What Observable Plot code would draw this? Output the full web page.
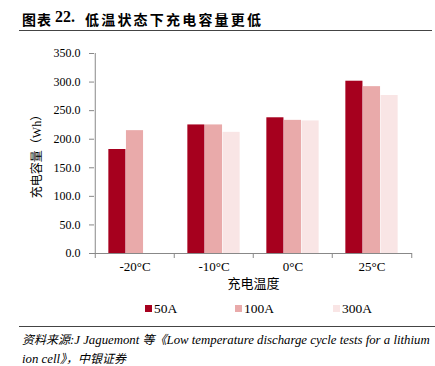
<!DOCTYPE html>
<html><head><meta charset="utf-8">
<script src="https://cdn.jsdelivr.net/npm/d3@7"></script>
<script src="https://cdn.jsdelivr.net/npm/@observablehq/plot@0.6"></script>
<style>
body{margin:0;background:#fff;}
#wrap{position:relative;width:435px;height:366px;overflow:hidden;font-family:'Liberation Serif','Times New Roman','Noto Sans CJK SC',serif;color:#000;}
#title{position:absolute;left:0;top:9px;height:20px;width:435px;font-weight:bold;font-size:14px;white-space:nowrap;}
#title span{position:absolute;top:0;}
.hr{position:absolute;background:#444;height:1.3px;}
#chart{position:absolute;left:0;top:40px;}
.leg{position:absolute;top:301px;font-size:13.5px;white-space:nowrap;}
.sw{position:absolute;width:7px;height:7px;top:305px;}
#src{position:absolute;left:22px;top:330px;font-size:12.8px;font-style:italic;line-height:17px;white-space:nowrap;}
</style></head><body>
<div id="wrap">
  <div id="title"><span style="left:22px;font-family:'Noto Sans CJK SC';letter-spacing:1px">图表</span><span style="left:55px;font-family:'Liberation Serif';font-size:16px;top:-1px">22.</span><span style="left:85px;font-family:'Noto Sans CJK SC';letter-spacing:2.2px">低温状态下充电容量更低</span></div>
  <div class="hr" style="left:19px;top:30px;width:413px"></div>
  <div id="chart"></div>
  <div id="legend"></div>
  <div class="hr" style="left:19px;top:326px;width:416px"></div>
  <div id="src"><span style="font-family:'Noto Sans CJK SC';font-size:12px">资料来源</span>:J Jaguemont <span style="font-family:'Noto Sans CJK SC';font-size:12px">等《</span>Low temperature discharge cycle tests for a lithium<br>ion cell<span style="font-family:'Noto Sans CJK SC';font-size:12px">》，中银证券</span></div>
</div>
<script>
const temps = ["-20°C", "-10°C", "0°C", "25°C"];
const series = ["50A", "100A", "300A"];
const colors = ["#a6001e", "#e9aaaa", "#f9e5e5"];
const v50 = [182, 225, 237.5, 301.5];
const v100 = [215, 225, 233, 292];
const v300 = [null, 212, 232, 276.5];
const yTicks = [0, 50, 100, 150, 200, 250, 300, 350];
const xLabel = "充电温度";
const yLabel = "充电容量（Wh）";

const valuesBySeries = [v50, v100, v300];
const rows = series.flatMap((s, i) => temps.map((t, j) => ({temp: t, series: s, value: valuesBySeries[i][j]})))
  .filter(d => d.value != null);

const W = 435, H = 262, mt = 13, mb = 49, ml = 94, mr = 23;
const frameH = H - mt - mb;
const step = (W - ml - mr) / temps.length;
const bw = 17.6;
const inset = (step - bw) / 2;
const axisColor = "#888";

const chart = Plot.plot({
  width: W, height: H,
  marginTop: mt, marginBottom: mb, marginLeft: ml, marginRight: mr,
  style: {fontFamily: "'Liberation Serif','Times New Roman','Noto Sans CJK SC',serif", fontSize: "12.5px", color: "#000", background: "transparent"},
  x: {domain: temps, padding: 0},
  y: {domain: [0, 350]},
  color: {domain: series, range: colors},
  marks: [
    ...series.map((s, i) => Plot.barY(rows.filter(d => d.series === s), {
      x: "temp", y: "value", fill: "series", insetLeft: inset, insetRight: inset, dx: (i - 1) * bw
    })),
    Plot.ruleY([0], {stroke: axisColor}),
    Plot.ruleX([temps[0]], {dx: -step / 2, stroke: axisColor}),
    Plot.ruleX(temps, {dx: -step / 2, stroke: axisColor, insetTop: frameH, insetBottom: -5}),
    Plot.ruleX([temps[temps.length - 1]], {dx: step / 2, stroke: axisColor, insetTop: frameH, insetBottom: -5}),
    Plot.axisY({ticks: yTicks, tickFormat: d => d.toFixed(1), tickSize: 5, tickPadding: 9, stroke: axisColor, fill: "#000",
      label: yLabel, labelAnchor: "center", labelArrow: "none", labelOffset: 62, fontSize: 12}),
    Plot.axisX({tickSize: 0, tickPadding: 8, fill: "#000", fontSize: 13, label: xLabel, labelAnchor: "center", labelArrow: "none", labelOffset: 34})
  ]
});
document.getElementById("chart").appendChild(chart);

const legend = document.getElementById("legend");
const swX = [145, 235, 333];
series.forEach((s, i) => {
  const sw = document.createElement("div");
  sw.className = "sw";
  sw.style.left = swX[i] + "px";
  sw.style.background = colors[i];
  legend.appendChild(sw);
  const t = document.createElement("div");
  t.className = "leg";
  t.style.left = (swX[i] + 9) + "px";
  t.textContent = s;
  legend.appendChild(t);
});
</script>
</body></html>
